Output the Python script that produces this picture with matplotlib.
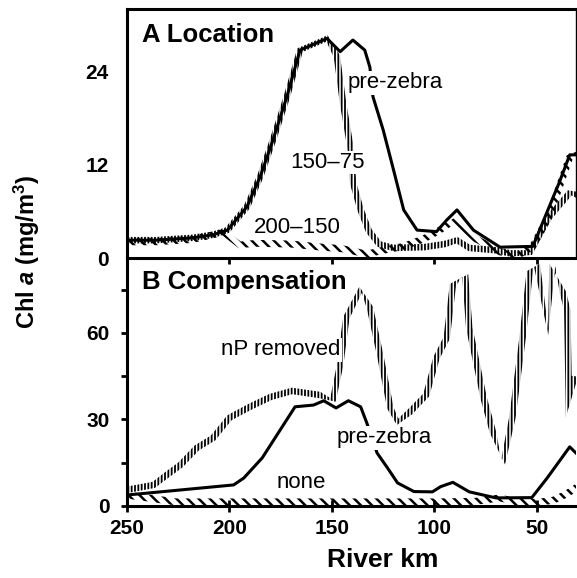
import numpy as np
import matplotlib

# headless rendering
matplotlib.use('Agg')

import matplotlib.pyplot as plt
from matplotlib.patches import Polygon

plt.rcParams['font.family'] = ['Liberation Sans', 'DejaVu Sans']
plt.rcParams['font.weight'] = 'bold'
plt.rcParams['mathtext.fontset'] = 'custom'
plt.rcParams['mathtext.rm'] = 'Liberation Sans'
plt.rcParams['mathtext.it'] = 'Liberation Sans:italic:bold'
plt.rcParams['mathtext.bf'] = 'Liberation Sans:bold'
plt.rcParams['hatch.linewidth'] = 1.2

# --- panel A: location of the zebra mussel front ---
km_a_pre = [250, 236, 218, 208, 201, 191.5, 185, 178.8, 172, 165.6, 152.4, 146,
            139.8, 134, 131.5, 130, 125, 120, 115, 108.5, 99, 94, 89, 81, 68,
            52, 39, 34, 30]
chl_a_pre = [2.3, 2.3, 2.6, 3.0, 3.6, 6.6, 10.5, 15.2, 20.8, 26.8, 28.3, 26.6,
             28.1, 26.8, 24.6, 20.8, 16.5, 11.4, 6.2, 3.6, 3.4, 4.9, 6.2, 3.6,
             1.4, 1.5, 9.8, 13.3, 13.3]

km_a_150 = [250, 236, 218, 208, 201, 191.5, 185, 178.8, 172, 165.6, 152.4,
            147.6, 144.6, 141, 139.7, 136, 132, 127, 120, 105, 95, 89, 83, 70,
            63, 53.5, 44, 34, 30]
chl_a_150 = [2.3, 2.3, 2.6, 3.0, 3.6, 6.6, 10.5, 15.2, 20.8, 26.8, 28.3,
             26.0, 20.0, 14.3, 9.7, 6.2, 3.5, 1.8, 1.3, 1.4, 1.8, 2.3, 1.3, 1.0,
             0.6, 0.7, 5.3, 8.4, 8.1]

km_a_200 = [250, 236, 218, 203, 195, 187, 170, 155, 145, 133, 125, 115, 105,
            98, 90, 80, 68, 60, 52, 44, 38, 34, 30]
chl_a_200 = [2.1, 2.1, 2.4, 3.3, 1.7, 1.9, 1.8, 1.4, 1.2, 0.5, 1.0, 1.5, 2.5,
             3.5, 4.8, 2.5, 0.8, 0.2, 1.5, 5.5, 10.0, 13.0, 13.3]

# --- panel B: compensation scenarios ---
km_b_pre = [250, 198, 193, 184, 168, 159, 154, 148, 142, 136, 133, 128, 123,
            118, 110, 101, 97, 91, 83, 70, 52.5, 45, 34, 30]
chl_b_pre = [3.8, 7.3, 9.7, 16.7, 34.4, 35.0, 36.5, 34.0, 36.5, 34.4, 28.8,
             18.4, 13.3, 8.0, 5.0, 4.9, 6.7, 8.2, 4.9, 2.8, 2.9, 9.7, 20.5, 17.7]

km_b_np = [250, 237, 230.5, 224, 216, 208, 200, 190, 180, 169.5, 156, 149.5,
           146, 143, 136, 131.5, 126.5, 121.5, 118, 112, 104, 99, 94, 91, 85,
           83, 76, 71.5, 66.5, 62, 57, 53.5, 50, 44.5, 42.5, 37.3, 35.2, 34.3,
           31.5]
chl_b_np = [5.6, 7.3, 10.8, 14.2, 20.1, 23.6, 30.6, 34.4, 37.8, 39.9, 38.5,
            36.8, 49.0, 65.3, 75.0, 68.8, 52.4, 34.0, 29.2, 32.6, 38.5, 51.4,
            58.3, 76.7, 80.0, 61.8, 37.5, 25.7, 15.3, 30.6, 58.3, 81.2, 83.7,
            60.4, 83.7, 74.0, 68.0, 31.0, 45.0]

km_b_none = [250, 226, 150, 100, 80, 68, 60, 50, 42, 36, 30.5]
chl_b_none = [3.8, 1.4, 1.4, 1.4, 1.6, 2.8, 1.4, 1.2, 2.0, 4.0, 6.5]


def hatched_band(ax, km, chl, width_px, hatch, hatch_lw):
    """Fill a band of constant screen width around a curve with a hatch."""
    pts = ax.transData.transform(np.column_stack([km, chl]))
    tang = np.gradient(pts, axis=0)
    tang /= np.hypot(tang[:, 0], tang[:, 1])[:, None]
    norm = np.column_stack([-tang[:, 1], tang[:, 0]])
    poly = np.vstack([pts + norm * width_px / 2,
                      (pts - norm * width_px / 2)[::-1]])
    poly = ax.transData.inverted().transform(poly)
    with plt.rc_context({'hatch.linewidth': hatch_lw}):
        patch = Polygon(poly, closed=True, facecolor='none',
                        edgecolor='black', linewidth=0, hatch=hatch)
    if hasattr(patch, 'set_hatch_linewidth'):
        patch.set_hatch_linewidth(hatch_lw)
    ax.add_patch(patch)


fig = plt.figure(figsize=(5.77, 5.78), dpi=100)
ax_b = fig.add_axes([0.2201, 0.1246, 0.7790, 0.4290])
ax_a = fig.add_axes([0.2201, 0.5536, 0.7790, 0.4308])
ax_b.patch.set_visible(False)

for ax in (ax_a, ax_b):
    ax.set_xlim(250, 30.7)
    ax.set_xticks([250, 200, 150, 100, 50])
    for s in ax.spines.values():
        s.set_linewidth(2.2)

ax_a.set_ylim(0, 32.1)
ax_b.set_ylim(0, 86)

lbl = dict(fontsize=16, fontweight='normal', ha='center', va='center',
           bbox=dict(fc='white', ec='none', pad=1))

diag = '\\' * 3
vert = '|' * 5

# panel A curves
hatched_band(ax_a, km_a_200, chl_a_200, 7, diag, 1.8)
hatched_band(ax_a, km_a_150, chl_a_150, 6.5, vert, 1.3)
ax_a.plot(km_a_pre, chl_a_pre, color='black', lw=2.2)
ax_a.text(119, 22.6, 'pre-zebra', **lbl)
ax_a.text(152, 12.3, '150\u201375', **lbl)
ax_a.text(167, 3.9, '200\u2013150', **lbl)
ax_a.text(0.033, 0.897, 'A Location', transform=ax_a.transAxes,
          fontsize=18.5, fontweight='bold', ha='left', va='center')

ax_a.set_yticks([0, 12, 24])
ax_a.tick_params(axis='y', length=0, pad=13, labelsize=15)
ax_a.tick_params(axis='x', direction='out', length=4.5, width=2,
                 labelbottom=False)
ax_a.spines['right'].set_linewidth(1.0)

# panel B curves
hatched_band(ax_b, km_b_none, chl_b_none, 7, diag, 1.8)
hatched_band(ax_b, km_b_np, chl_b_np, 6.5, vert, 1.3)
ax_b.plot(km_b_pre, chl_b_pre, color='black', lw=2.2)
ax_b.text(174.9, 54.1, 'nP removed', **lbl)
ax_b.text(124.4, 23.6, 'pre-zebra', **lbl)
ax_b.text(164.9, 8.3, 'none', **lbl)
ax_b.text(0.033, 0.903, 'B Compensation', transform=ax_b.transAxes,
          fontsize=18.5, fontweight='bold', ha='left', va='center')

ax_b.set_yticks([0, 30, 60])
ax_b.set_yticks([15, 45, 75], minor=True)
ax_b.tick_params(axis='y', which='both', direction='out', length=4.5,
                 width=2, pad=8, labelsize=15)
ax_b.tick_params(axis='x', direction='inout', length=9, width=2, pad=5,
                 labelsize=15)
ax_b.spines['top'].set_visible(False)
ax_b.spines['right'].set_visible(False)

fig.text(0.047, 0.564, r'Chl $\mathit{a}$ (mg/m$^3$)', rotation=90,
         fontsize=17, fontweight='bold', ha='center', va='center')
fig.text(0.664, 0.031, 'River km', fontsize=19, fontweight='bold',
         ha='center', va='center')

fig.savefig('out.png', dpi=100)
